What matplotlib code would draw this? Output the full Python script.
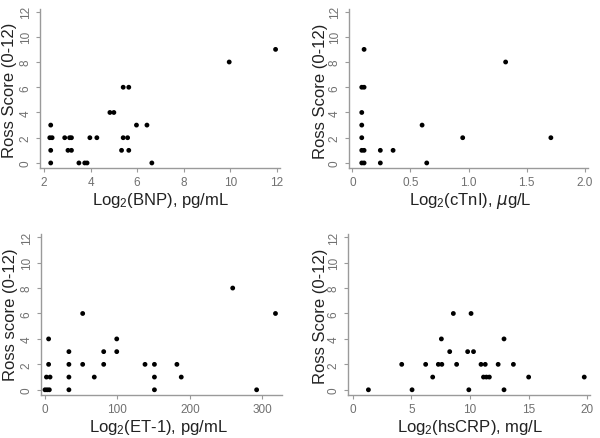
import matplotlib
matplotlib.use("Agg")
import matplotlib.pyplot as plt

plt.rcParams['font.family'] = ['Liberation Sans', 'DejaVu Sans']

# Panel 1: BNP
bnp_x = [2.29, 2.25, 2.35, 2.29, 2.29, 2.89, 3.1, 3.18, 3.03, 3.18, 3.5, 3.75, 3.85,
         3.97, 4.27, 4.83, 5.0, 5.33, 5.64, 5.4, 5.59, 5.4, 5.64, 5.97, 6.42, 6.63, 9.95, 11.94]
bnp_y = [3, 2, 2, 1, 0, 2, 2, 2, 1, 1, 0, 0, 0,
         2, 2, 4, 4, 1, 1, 2, 2, 6, 6, 3, 3, 0, 8, 9]

# Panel 2: cTnI
ctni_x = [0.1, 0.08, 0.1, 0.08, 0.08, 0.08, 0.08, 0.1, 0.08, 0.1, 0.24, 0.35, 0.24,
          0.6, 0.64, 0.95, 1.32, 1.71]
ctni_y = [9, 6, 6, 4, 3, 2, 1, 1, 0, 0, 1, 1, 0,
          3, 0, 2, 8, 2]

# Panel 3: ET-1
et1_x = [0, 3, 6, 2, 7, 5, 5, 33, 33, 33, 33, 52, 52, 68, 81, 81, 99, 99,
         138, 151, 151, 151, 182, 188, 259, 292, 318]
et1_y = [0, 0, 0, 1, 1, 2, 4, 0, 1, 2, 3, 6, 2, 1, 2, 3, 4, 3,
         2, 2, 1, 0, 2, 1, 8, 0, 6]

# Panel 4: hsCRP
crp_x = [1.34, 5.06, 4.18, 6.22, 6.82, 7.3, 7.6, 7.56, 8.27, 8.58, 8.86, 9.8, 9.9,
         10.09, 10.3, 10.94, 11.3, 11.15, 11.4, 11.65, 12.4, 12.9, 12.9, 13.7, 15.0, 19.74]
crp_y = [0, 0, 2, 2, 1, 2, 2, 4, 3, 6, 2, 3, 0,
         6, 3, 2, 2, 1, 1, 1, 2, 4, 0, 2, 1, 1]

W, H = 600, 439
fig = plt.figure(figsize=(6.0, 4.39), dpi=100)
fig.patch.set_facecolor('white')

panels = [
    dict(x=bnp_x, y=bnp_y, box=(40, 280, 10, 169), xlim=(1.83, 12.13), ylim=(-0.4, 12.2),
         xticks=[2, 4, 6, 8, 10, 12], xticklabels=['2', '4', '6', '8', '10', '12'],
         xlabel=r'$\mathregular{Log_2}$(BNP), pg/mL', ylabel='Ross Score (0-12)',
         xl=(160, 205), yl=(10, 90)),
    dict(x=ctni_x, y=ctni_y, box=(349, 588, 10, 169), xlim=(-0.03, 2.03), ylim=(-0.4, 12.2),
         xticks=[0, 0.5, 1.0, 1.5, 2.0], xticklabels=['0', '0.5', '1.0', '1.5', '2.0'],
         xlabel=r'$\mathregular{Log_2}$(cTnI), $\mathit{\mu}$g/L', ylabel='Ross Score (0-12)',
         xl=(470, 205), yl=(320, 91)),
    dict(x=et1_x, y=et1_y, box=(41, 282, 235, 396), xlim=(-5.5, 327), ylim=(-0.41, 12.25),
         xticks=[0, 100, 200, 300], xticklabels=['0', '100', '200', '300'],
         xlabel=r'$\mathregular{Log_2}$(ET-1), pg/mL', ylabel='Ross score (0-12)',
         xl=(158, 432), yl=(11, 315)),
    dict(x=crp_x, y=crp_y, box=(348, 590, 235, 396), xlim=(-0.4, 20.23), ylim=(-0.41, 12.25),
         xticks=[0, 5, 10, 15, 20], xticklabels=['0', '5', '10', '15', '20'],
         xlabel=r'$\mathregular{Log_2}$(hsCRP), mg/L', ylabel='Ross Score (0-12)',
         xl=(470, 432), yl=(320, 316)),
]

yticks = [0, 2, 4, 6, 8, 10, 12]
spine_col = '#9a9a9a'
tick_col = '#707070'

for p in panels:
    l, r, t, b = p['box']
    ax = fig.add_axes([l / W, (H - b) / H, (r - l) / W, (b - t) / H])
    ax.scatter(p['x'], p['y'], s=12, color='black', edgecolors='none', zorder=3)
    ax.set_xlim(*p['xlim'])
    ax.set_ylim(*p['ylim'])
    ax.set_xticks(p['xticks'])
    ax.set_xticklabels(p['xticklabels'])
    ax.set_yticks(yticks)
    ax.set_yticklabels([str(v) for v in yticks], rotation=90, va='center')
    for s in ['top', 'right']:
        ax.spines[s].set_visible(False)
    for s in ['left', 'bottom']:
        ax.spines[s].set_color(spine_col)
        ax.spines[s].set_linewidth(1.0)
    ax.tick_params(axis='both', direction='out', length=3, width=0.8, color=spine_col,
                   labelcolor=tick_col, labelsize=8.5, pad=3)
    ax.tick_params(axis='x', pad=2.5)
    fig.text(p['xl'][0] / W, 1 - p['xl'][1] / H, p['xlabel'], ha='center', va='baseline',
             fontsize=12, color='#222222')
    fig.text(p['yl'][0] / W, 1 - p['yl'][1] / H, p['ylabel'], ha='center', va='center',
             rotation=90, fontsize=12, color='#222222')

fig.savefig('out.png', dpi=100)
